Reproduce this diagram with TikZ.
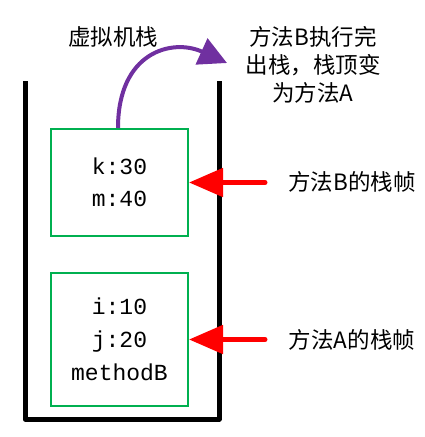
\documentclass[tikz,border=0pt]{standalone}
\usepackage{fontspec}
\usepackage{xcolor}
\usetikzlibrary{arrows.meta}
\newfontfamily\cjk{Noto Sans CJK SC}
\setmonofont{Liberation Mono}
\definecolor{frame-green}{HTML}{00B050}
\definecolor{pop-purple}{HTML}{7030A0}
\definecolor{mark-red}{HTML}{FF0000}

\begin{document}
\begin{tikzpicture}[x=1pt, y=-1pt,
        every node/.style={font=\fontsize{22.5}{28}\selectfont\cjk}]
      \useasboundingbox (0,0) rectangle (425,437);
      \draw[line width=5pt, line join=round] (25,81) -- (25,419) -- (219,419) -- (219,81);
      \node[draw=frame-green, line width=2pt, minimum width=137pt, minimum height=107pt,
            align=center, font=\fontsize{23}{32}\selectfont\ttfamily]
            (FRB) at (119.5,182.5) {k:30\\m:40};
      \node[draw=frame-green, line width=2pt, minimum width=137pt, minimum height=133pt,
            align=center, font=\fontsize{23}{33}\selectfont\ttfamily]
            (FRA) at (119.5,339.5) {i:10\\j:20\\methodB};
      \node (STACK) at (113,37) {虚拟机栈};
      \node[align=center] (POP) at (313,65) {方法B执行完\\出栈，栈顶变\\为方法A};
      \node (LB) at (352,182) {方法B的栈帧};
      \node (LA) at (352,340) {方法A的栈帧};
      \coordinate (TB) at (265,182.5);
      \coordinate (TA) at (265,339.5);
      \coordinate (POPEND) at (227,63);
      \draw[pop-purple, line width=4pt, -{Triangle[length=28pt,width=28pt]}]
            (FRB.north -| 118,0) .. controls (118,52) and (172,38) .. (POPEND);
      \draw[mark-red, line width=5pt, line cap=round, -{Triangle[length=34pt,width=28pt]}]
            (TB) -- (FRB.east);
      \draw[mark-red, line width=5pt, line cap=round, -{Triangle[length=34pt,width=28pt]}]
            (TA) -- (FRA.east);
    \end{tikzpicture}
\end{document}
